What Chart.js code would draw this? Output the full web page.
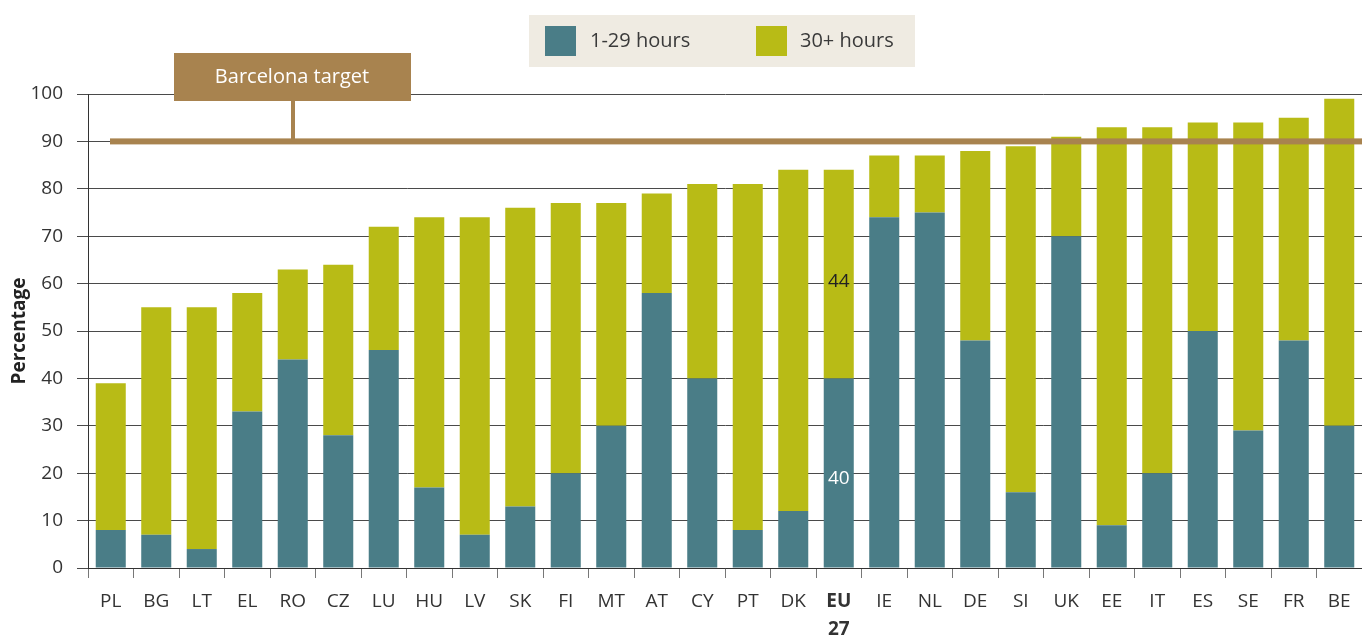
<!DOCTYPE html>
<html>
<head>
<meta charset="utf-8">
<title>Childcare by hours</title>
<script src="https://cdn.jsdelivr.net/npm/chart.js@4.4.1/dist/chart.umd.min.js"></script>
<style>
  body { margin: 0; background: #fff; }
  #wrap { width: 1362px; height: 636px; }
</style>
</head>
<body>
<div id="wrap"><canvas id="hoursChart" width="1362" height="636"></canvas></div>
<script>
// values
const countries = ['PL', 'BG', 'LT', 'EL', 'RO', 'CZ', 'LU', 'HU', 'LV', 'SK', 'FI', 'MT', 'AT', 'CY',
  'PT', 'DK', ['EU', '27'], 'IE', 'NL', 'DE', 'SI', 'UK', 'EE', 'IT', 'ES', 'SE', 'FR', 'BE'];
const shortHours = [8, 7, 4, 33, 44, 28, 46, 17, 7, 13, 20, 30, 58, 40, 8, 12, 40, 74, 75, 48, 16, 70, 9, 20, 50, 29, 48, 30];
const longHours = [31, 48, 51, 25, 19, 36, 26, 57, 67, 63, 57, 47, 21, 41, 73, 72, 44, 13, 12, 40, 73, 21, 84, 73, 44, 65, 47, 69];
const yTicks = [0, 10, 20, 30, 40, 50, 60, 70, 80, 90, 100];
const barcelonaTarget = 90;
const euIndex = 16;

const teal = '#4a7d87';
const olive = '#b8bb16';
const brown = '#a8834f';
const fontFamily = '"Open Sans", "Noto Sans", sans-serif';

const overlay = {
  id: 'overlay',
  afterDatasetsDraw(chart) {
    const { ctx, chartArea, scales } = chart;
    const y = scales.y;
    const x = scales.x;
    ctx.save();

    // target line with its label
    const ty = y.getPixelForValue(barcelonaTarget);
    ctx.fillStyle = brown;
    ctx.fillRect(110, ty - 3, chartArea.right - 110, 6);
    ctx.fillRect(291, 100, 4, ty - 100);
    ctx.fillRect(174, 53, 237, 48);
    ctx.fillStyle = '#fff';
    ctx.font = '20px ' + fontFamily;
    ctx.textAlign = 'center';
    ctx.textBaseline = 'middle';
    ctx.fillText('Barcelona target', 292, 77);

    // EU values inside the bar
    const cx = x.getPixelForValue(euIndex);
    ctx.font = '19px ' + fontFamily;
    ctx.fillStyle = '#222';
    ctx.fillText(String(longHours[euIndex]), cx, y.getPixelForValue(shortHours[euIndex] + longHours[euIndex] / 2) + 7);
    ctx.fillStyle = '#fff';
    ctx.fillText(String(shortHours[euIndex]), cx, y.getPixelForValue(shortHours[euIndex] / 2) + 5);

    // legend
    ctx.fillStyle = '#efebe2';
    ctx.fillRect(529, 15, 386, 52);
    ctx.fillStyle = teal;
    ctx.fillRect(545, 26, 31, 30);
    ctx.fillStyle = olive;
    ctx.fillRect(756, 26, 31, 30);
    ctx.fillStyle = '#3a3a3a';
    ctx.font = '20px ' + fontFamily;
    ctx.textAlign = 'left';
    ctx.fillText('1-29 hours', 590, 41);
    ctx.fillText('30+ hours', 800, 41);
    ctx.restore();
  }
};

new Chart(document.getElementById('hoursChart'), {
  type: 'bar',
  data: {
    labels: countries,
    datasets: [
      { label: '1-29 hours', data: shortHours, backgroundColor: teal },
      { label: '30+ hours', data: longHours, backgroundColor: olive }
    ]
  },
  options: {
    responsive: false,
    animation: false,
    layout: { padding: { top: 94, right: 0, left: 0, bottom: 0 } },
    datasets: { bar: { barPercentage: 0.66, categoryPercentage: 1 } },
    plugins: { legend: { display: false }, tooltip: { enabled: false } },
    scales: {
      x: {
        stacked: true,
        afterFit(scale) { scale.height = 68; },
        grid: { drawOnChartArea: false, drawTicks: true, tickLength: 10, color: '#777', offset: true },
        border: { color: '#333', width: 1 },
        ticks: {
          color: '#333',
          padding: 9,
          font: c => ({ family: fontFamily, size: 19, weight: c.index === euIndex ? 'bold' : 'normal', lineHeight: 1.5 })
        }
      },
      y: {
        stacked: true,
        min: 0,
        max: 100,
        afterFit(scale) { scale.width = 88; },
        afterBuildTicks(scale) { scale.ticks = yTicks.map(v => ({ value: v })); },
        grid: { color: '#4a4a4a', lineWidth: 1, tickLength: 11 },
        border: { color: '#333', width: 1 },
        title: {
          display: true,
          text: 'Percentage',
          color: '#222',
          font: { family: fontFamily, size: 19, weight: 'bold' },
          padding: { top: 8, bottom: 4 }
        },
        ticks: { color: '#333', padding: 14, font: { family: fontFamily, size: 19 } }
      }
    }
  },
  plugins: [overlay]
});
</script>
</body>
</html>
